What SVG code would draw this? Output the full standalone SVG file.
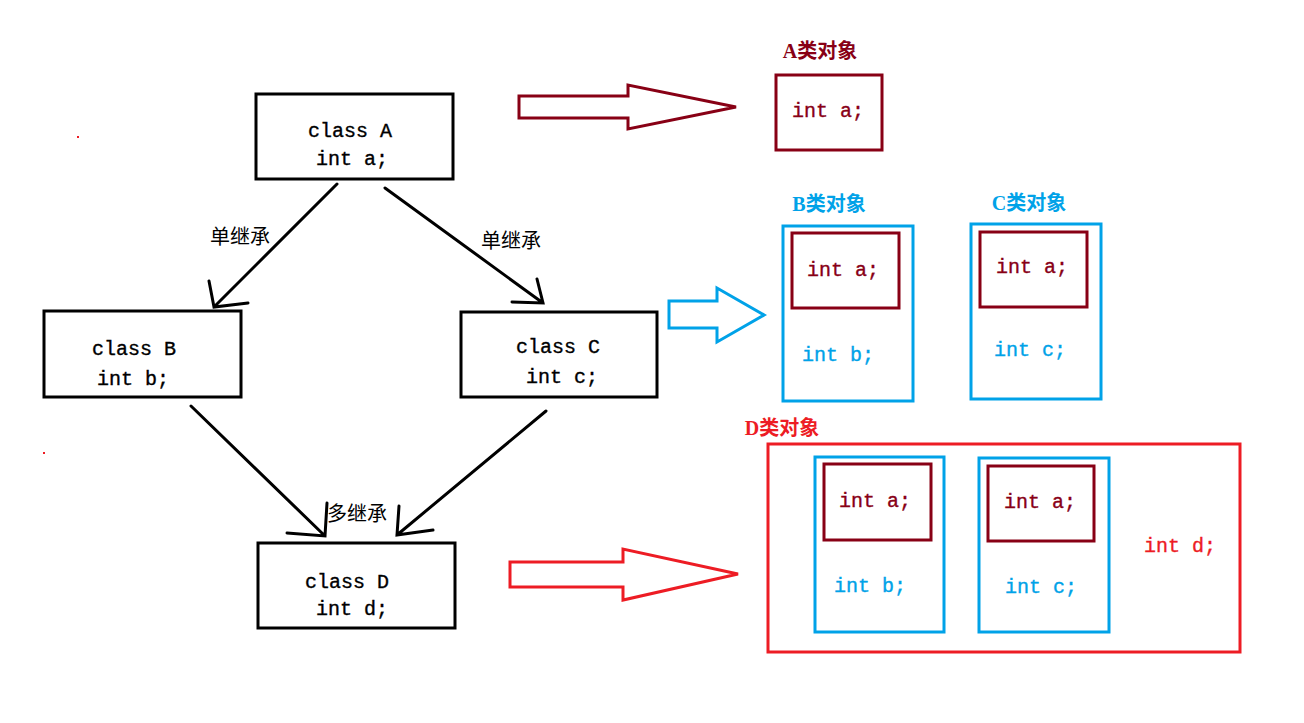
<svg xmlns="http://www.w3.org/2000/svg" width="1304" height="723" viewBox="0 0 1304 723">
<style>
.bg{fill:#ffffff}
.box{fill:none;stroke:#000;stroke-width:3}
.dr{fill:none;stroke:#880015;stroke-width:3}
.bl{fill:none;stroke:#00a2e8;stroke-width:3}
.rd{fill:none;stroke:#ed1c24;stroke-width:3}
.t{font-family:"Liberation Mono","Noto Sans CJK SC",monospace;font-size:20px;text-anchor:middle;stroke-width:0.35}
.tk{fill:#000;stroke:#000}
.tdr{fill:#880015;stroke:#880015}
.tbl{fill:#00a2e8;stroke:#00a2e8}
.trd{fill:#ed1c24;stroke:#ed1c24}
.lab{font-family:"Liberation Serif","Noto Sans CJK SC",serif;font-size:20px;font-weight:bold;text-anchor:middle;stroke:none}
.cn{font-family:"Noto Sans CJK SC",sans-serif;font-size:20px;text-anchor:middle;fill:#000}
.ln{fill:none;stroke:#000;stroke-width:3;stroke-linecap:round}
</style>
<rect class="bg" x="0" y="0" width="1304" height="723"/>
<rect x="77" y="136" width="2" height="2" fill="#ed1c24"/>
<rect x="43" y="452" width="2" height="2" fill="#ed1c24"/>

<g id="connectors">
  <path class="ln" d="M337,184 L214,307 M209,281 L214,307 L248,303"/>
  <path class="ln" d="M385,188 L543,303 M537,279 L543,303 L512,302"/>
  <path class="ln" d="M191,406 L325,536 M327,503 L325,536 L287,533"/>
  <path class="ln" d="M546,411 L397,535 M399,506 L397,535 L433,530"/>
  <text class="cn" x="240" y="244">单继承</text>
  <text class="cn" x="511" y="248">单继承</text>
  <text class="cn" x="357" y="521">多继承</text>
  <polygon class="dr" points="519,96 628,96 628,85 736,107 628,129 628,118 519,118"/>
  <polygon class="bl" points="669,301 717,301 717,288 764,315 717,342 717,328 669,328"/>
  <polygon class="rd" points="510,562 623,562 623,549 738,574 623,600 623,587 510,587"/>
</g>

<g id="classA">
  <rect class="box" x="256" y="94" width="197" height="85"/>
  <text class="t tk" x="350" y="137">class A</text>
  <text class="t tk" x="352" y="165">int a;</text>
</g>
<g id="classB">
  <rect class="box" x="44" y="311" width="197" height="86"/>
  <text class="t tk" x="134" y="355">class B</text>
  <text class="t tk" x="133" y="385">int b;</text>
</g>
<g id="classC">
  <rect class="box" x="461" y="312" width="196" height="85"/>
  <text class="t tk" x="558" y="353">class C</text>
  <text class="t tk" x="562" y="383">int c;</text>
</g>
<g id="classD">
  <rect class="box" x="258" y="543" width="197" height="85"/>
  <text class="t tk" x="347" y="588">class D</text>
  <text class="t tk" x="352" y="615">int d;</text>
</g>

<g id="objA">
  <text class="lab tdr" x="820" y="58">A类对象</text>
  <rect class="dr" x="776" y="75" width="106" height="75"/>
  <text class="t tdr" x="828" y="117">int a;</text>
</g>
<g id="objB">
  <text class="lab tbl" x="829" y="211">B类对象</text>
  <rect class="bl" x="783" y="226" width="130" height="175"/>
  <rect class="dr" x="792" y="233" width="107" height="75"/>
  <text class="t tdr" x="843" y="276">int a;</text>
  <text class="t tbl" x="838" y="361">int b;</text>
</g>
<g id="objC">
  <text class="lab tbl" x="1029" y="210">C类对象</text>
  <rect class="bl" x="971" y="224" width="130" height="175"/>
  <rect class="dr" x="980" y="232" width="107" height="75"/>
  <text class="t tdr" x="1032" y="273">int a;</text>
  <text class="t tbl" x="1030" y="356">int c;</text>
</g>
<g id="objD">
  <text class="lab trd" x="782" y="435">D类对象</text>
  <rect class="rd" x="768" y="444" width="472" height="208"/>
  <rect class="bl" x="815" y="457" width="129" height="175"/>
  <rect class="dr" x="824" y="464" width="107" height="76"/>
  <text class="t tdr" x="875" y="507">int a;</text>
  <text class="t tbl" x="870" y="592">int b;</text>
  <rect class="bl" x="979" y="458" width="130" height="174"/>
  <rect class="dr" x="988" y="466" width="106" height="75"/>
  <text class="t tdr" x="1040" y="508">int a;</text>
  <text class="t tbl" x="1041" y="593">int c;</text>
  <text class="t trd" x="1180" y="552">int d;</text>
</g>
</svg>
